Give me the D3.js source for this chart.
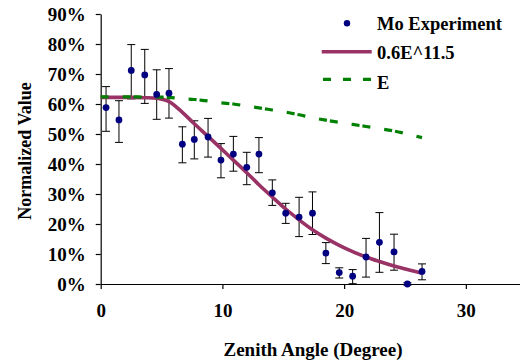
<!DOCTYPE html>
<html>
<head>
<meta charset="utf-8">
<script src="https://cdnjs.cloudflare.com/ajax/libs/d3/7.8.5/d3.min.js"></script>
<style>
	body { margin: 0; background: #fff; }
	svg { display: block; }
	text { font-family: "Liberation Serif", "Times New Roman", serif; font-weight: bold; fill: #000; }
</style>
</head>
<body>
<div id="chart"></div>
<script>
// zenith angles (degree) of the measured points
var angles = [0.44, 1.50, 2.51, 3.62, 4.60, 5.61, 6.71, 7.69, 8.82, 9.88, 10.9, 12.0, 13.0,
	14.1, 15.2, 16.3, 17.4, 18.5, 19.6, 20.7, 21.8, 22.9, 24.1, 25.2, 26.4];
// Mo experiment, percent
var moValues = [58.8, 54.7, 71.2, 69.7, 63.2, 63.6, 46.6, 48.2, 49.0, 41.3, 43.3, 38.9, 43.3,
	30.4, 23.6, 22.3, 23.6, 10.3, 3.8, 2.6, 9.0, 13.9, 10.7, 0.0, 4.2];
var errHigh = [65.8, 61.1, 79.8, 78.2, 71.4, 71.8, 52.4, 54.4, 55.2, 46.8, 49.2, 43.9, 48.8,
	34.7, 26.9, 28.9, 30.7, 13.8, 5.4, 4.8, 15.2, 23.8, 16.6, 0.4, 6.7];
var errLow = [50.9, 47.2, 61.7, 60.2, 54.9, 55.3, 40.4, 41.7, 42.3, 35.4, 37.6, 33.1, 37.1,
	26.2, 20.2, 15.8, 16.5, 6.8, 2.0, 0.1, 2.3, 3.9, 4.6, -0.4, 1.4];

// model lines, sampled at 0 and at each measured angle
var lineAngles = [0].concat(angles);
var fitValues = [62.2, 62.2, 62.2, 62.2, 62.1, 61.9, 60.8, 57.2, 53.4, 49.2, 45.2, 41.3, 37.1,
	33.1, 29.0, 25.0, 21.4, 18.1, 15.3, 12.9, 10.8, 9.0, 7.5, 6.0, 4.8, 3.6];
var eValues = [62.4, 62.4, 62.4, 62.4, 62.3, 62.3, 62.2, 61.8, 61.5, 61.0, 60.4, 60.0, 59.3,
	58.7, 58.0, 57.3, 56.4, 55.4, 54.6, 53.9, 53.2, 52.5, 51.8, 51.0, 50.0, 48.8];

var xTicks = [0, 10, 20, 30];
var yTicks = [0, 10, 20, 30, 40, 50, 60, 70, 80, 90];
var legendNames = ['Mo Experiment', '0.6E^11.5', 'E'];

var Chart = {

	init: function() {
		var svg = d3.select('#chart')
			.append('svg')
			.attr('width', 520)
			.attr('height', 363);

		var x = d3.scaleLinear().domain([0, 35]).range([100.7, 526.7]),
			y = d3.scaleLinear().domain([0, 90]).range([284, 14]);

		Chart.drawAxes(svg, x, y);
		Chart.drawErrorBars(svg, x, y);
		Chart.drawLines(svg, x, y);
		Chart.drawPoints(svg, x, y);
		Chart.drawLegend(svg);
	},

	drawAxes: function(svg, x, y) {
		var xAxis = svg.append('g')
			.attr('transform', 'translate(0,284)')
			.call(d3.axisBottom(x).tickValues(xTicks).tickSize(5).tickSizeOuter(0).tickPadding(10));

		var yAxis = svg.append('g')
			.attr('transform', 'translate(100.7,0)')
			.call(d3.axisLeft(y).tickValues(yTicks).tickSize(5).tickSizeOuter(0).tickPadding(10)
				.tickFormat(function(d) { return d + '%'; }));

		svg.selectAll('.domain, .tick line').attr('stroke', '#000').attr('stroke-width', 1.2);
		svg.selectAll('.tick text')
			.style('font-family', '"Liberation Serif", serif')
			.style('font-weight', 'bold')
			.style('font-size', '19px');
		xAxis.selectAll('.tick text').attr('dy', '0.95em');
		yAxis.selectAll('.tick text').attr('x', -15).attr('dy', '0.35em');

		svg.append('text')
			.attr('x', 313)
			.attr('y', 356)
			.attr('text-anchor', 'middle')
			.style('font-size', '19px')
			.text('Zenith Angle (Degree)');

		svg.append('text')
			.attr('transform', 'translate(31,151) rotate(-90)')
			.attr('text-anchor', 'middle')
			.style('font-size', '18px')
			.text('Normalized Value');
	},

	drawErrorBars: function(svg, x, y) {
		var bars = svg.append('g')
			.selectAll('g')
			.data(angles)
			.enter()
			.append('g')
			.attr('stroke', '#000')
			.attr('stroke-width', 1);

		bars.append('line')
			.attr('x1', function(d) { return x(d); })
			.attr('x2', function(d) { return x(d); })
			.attr('y1', function(d, i) { return y(errHigh[i]); })
			.attr('y2', function(d, i) { return y(errLow[i]); });

		[errHigh, errLow].forEach(function(arr) {
			bars.append('line')
				.attr('x1', function(d) { return x(d) - 4; })
				.attr('x2', function(d) { return x(d) + 4; })
				.attr('y1', function(d, i) { return y(arr[i]); })
				.attr('y2', function(d, i) { return y(arr[i]); });
		});
	},

	drawLines: function(svg, x, y) {
		var line = function(vals) {
			return d3.line()
				.x(function(d) { return x(d); })
				.y(function(d, i) { return y(vals[i]); })
				.curve(d3.curveCatmullRom.alpha(0.5))(lineAngles);
		};

		svg.append('path')
			.attr('d', line(fitValues))
			.attr('fill', 'none')
			.attr('stroke', '#993366')
			.attr('stroke-width', 3.6);

		svg.append('path')
			.attr('d', line(eValues))
			.attr('fill', 'none')
			.attr('stroke', '#008000')
			.attr('stroke-width', 3.2)
			.attr('stroke-dasharray', '8,14,8,3');
	},

	drawPoints: function(svg, x, y) {
		svg.append('g')
			.selectAll('circle')
			.data(angles)
			.enter()
			.append('circle')
			.attr('cx', function(d) { return x(d); })
			.attr('cy', function(d, i) { return y(moValues[i]); })
			.attr('r', 3.4)
			.attr('fill', '#000080');
	},

	drawLegend: function(svg) {
		var lg = svg.append('g');

		lg.append('circle')
			.attr('cx', 347).attr('cy', 23.3).attr('r', 3.2)
			.attr('fill', '#000080');

		lg.append('line')
			.attr('x1', 321.7).attr('x2', 371.7)
			.attr('y1', 51.7).attr('y2', 51.7)
			.attr('stroke', '#993366')
			.attr('stroke-width', 3.6);

		lg.append('line')
			.attr('x1', 323).attr('x2', 372)
			.attr('y1', 79.3).attr('y2', 79.3)
			.attr('stroke', '#008000')
			.attr('stroke-width', 3.2)
			.attr('stroke-dasharray', '8,12');

		lg.selectAll('text')
			.data(legendNames)
			.enter()
			.append('text')
			.attr('x', 377)
			.attr('y', function(d, i) { return 29.5 + i * 29.5; })
			.style('font-size', '18.5px')
			.text(function(d) { return d; });
	}
};

Chart.init();
</script>
</body>
</html>
